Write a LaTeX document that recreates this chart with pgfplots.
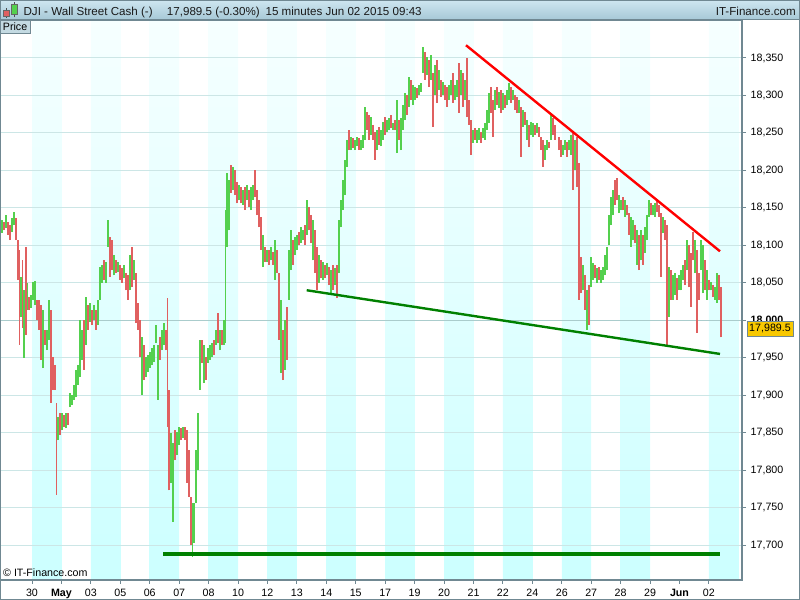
\documentclass[border=0pt]{standalone}
\usepackage{pgfplots}
\pgfplotsset{compat=1.18}
\usepackage{pgfplotstable}
\usepackage{fontspec}
\setmainfont{Liberation Sans}
\definecolor{upc}{RGB}{84,208,78}
\definecolor{dnc}{RGB}{224,96,96}
\definecolor{gridc}{RGB}{204,230,230}
\definecolor{gridd}{RGB}{170,204,204}
\definecolor{axc}{RGB}{112,136,146}
\definecolor{bandtop}{RGB}{246,255,255}
\definecolor{bandbot}{RGB}{204,255,255}
\definecolor{hdrtop}{RGB}{206,230,240}
\definecolor{hdrbot}{RGB}{166,200,214}
\definecolor{trgreen}{RGB}{0,128,0}
\definecolor{boxy}{RGB}{248,200,0}
\definecolor{pricebox}{RGB}{196,218,226}

% px = time position (chart units), lo/hi = price range of the 15-min bar, c = 1 up / 0 down
\pgfplotstableread{
px lo hi c
2 18117 18134 1
4 18120 18131 0
6 18123 18140 1
8 18114 18131 0
10 18107 18127 0
12 18118 18136 1
14 18127 18145 1
16 18107 18136 0
18 18054 18107 0
19.5 17967 18094 0
21 18004 18058 1
22.5 17990 18080 0
24 17950 18040 1
26 17980 18098 0
27.5 18014 18050 1
29 18014 18031 0
31 18016 18034 1
33 18027 18051 1
35 18020 18052 1
37 18000 18027 0
39 17987 18027 0
41 17947 18020 0
43 17936 18014 1
45 17967 17987 0
47 17960 17987 1
49 17974 18027 1
51 17890 18014 0
53 17907 17951 0
55 17907 17940 0
56.5 17767 17890 0
58 17840 17871 1
60 17847 17876 0
62 17854 17876 1
64 17858 17873 0
66 17856 17876 1
68 17860 17876 0
70 17884 17903 1
72 17887 17900 1
74 17894 17914 1
76 17897 17934 1
78 17914 17940 1
80 17924 18000 1
82 17947 17987 1
84 17934 18000 0
86 17967 18031 1
88 17987 18020 0
90 17998 18023 1
92 17994 18014 0
94 18000 18020 1
96 17987 18014 0
98 17994 18027 1
100 18027 18071 1
102 18050 18074 1
104 18054 18080 0
106 18050 18078 1
108 18098 18134 1
110 18058 18111 0
112 18067 18107 0
114 18060 18087 1
116 18063 18080 0
118 18064 18078 1
120 18054 18074 0
122 18050 18070 0
124 18056 18074 1
126 18040 18063 0
128 18027 18060 0
130 18040 18087 1
132 18044 18098 0
134 18054 18080 1
136 17996 18063 0
138 17987 18023 0
140 17951 18000 0
142 17900 17978 1
144 17920 17967 0
146 17924 17951 1
148 17931 17954 1
150 17936 17958 1
152 17940 17963 1
154 17944 17967 1
156 17970 17994 1
158 17894 17967 1
160 17947 17978 0
162 17960 17987 1
164 17967 17996 1
166 17960 17987 0
167.5 17858 18030 0
169 17773 17907 0
171 17783 17850 1
173 17731 17836 1
175 17813 17854 0
177 17820 17851 1
179 17834 17858 1
181 17840 17856 0
183 17843 17858 1
185 17840 17858 0
187 17783 17854 0
189 17764 17827 0
191 17700 17764 0
192.5 17684 17756 1
194 17703 17756 1
196 17756 17827 1
198 17800 17876 1
200 17907 17974 1
202 17943 17974 0
204 17916 17967 1
206 17920 17951 0
208 17943 17963 1
210 17947 17967 1
212 17951 17970 1
214 17954 17974 0
216 17967 17987 1
218 17970 18010 0
220 17960 17987 1
222 17967 17987 0
224 17967 18000 1
225.5 17970 18147 1
227 18098 18196 1
229 18120 18187 1
231 18170 18207 0
233 18174 18204 1
235 18167 18200 0
237 18156 18184 0
239 18160 18180 1
241 18156 18178 0
243 18154 18174 1
245 18147 18178 0
247 18160 18180 1
249 18151 18174 0
251 18147 18178 1
253 18160 18180 1
255 18164 18201 0
257 18140 18174 0
259 18124 18160 0
261 18094 18138 0
263 18071 18114 1
265 18078 18098 0
267 18078 18094 1
269 18074 18094 0
271 18080 18098 1
273 18074 18091 0
275 18054 18107 1
277 18063 18094 0
279 17974 18063 0
281 17930 18027 1
283 17920 17987 0
285 17934 18000 1
287 17947 18018 0
289 18027 18094 1
291 18067 18120 1
293 18074 18107 0
295 18087 18111 1
297 18094 18114 1
299 18100 18118 0
301 18103 18124 1
303 18107 18120 1
305 18100 18127 0
307 18114 18160 1
309 18120 18151 0
311 18103 18140 0
313 18080 18134 1
315 18063 18120 0
317 18040 18098 0
319 18050 18087 1
321 18056 18080 0
323 18054 18078 1
325 18056 18074 0
327 18060 18076 1
329 18047 18071 0
331 18034 18067 1
333 18040 18074 0
335 18047 18070 1
337 18030 18074 0
339 18063 18134 1
341 18124 18160 1
343 18147 18187 1
345 18167 18214 1
347 18205 18241 1
349 18227 18254 0
351 18227 18245 1
353 18230 18243 0
355 18227 18241 1
357 18232 18245 1
359 18227 18243 0
361 18227 18241 1
363 18230 18247 1
365 18241 18285 1
367 18254 18278 0
369 18241 18274 0
371 18247 18271 1
373 18241 18261 0
375 18214 18251 0
377 18227 18254 1
379 18234 18258 0
381 18232 18254 1
383 18241 18265 1
385 18247 18271 0
387 18251 18267 1
389 18254 18270 1
391 18256 18274 0
393 18254 18263 1
395 18254 18267 0
397 18223 18294 1
399 18241 18267 0
401 18227 18270 1
403 18254 18287 1
405 18267 18303 1
407 18274 18301 0
409 18285 18325 1
411 18294 18321 0
413 18287 18314 1
415 18294 18311 1
417 18297 18310 0
419 18301 18314 1
421 18305 18317 1
423 18330 18365 1
425 18321 18358 0
427 18327 18351 1
429 18311 18347 0
431 18321 18354 1
433 18258 18330 0
435 18301 18341 1
437 18290 18347 0
439 18307 18334 1
441 18298 18321 0
443 18301 18318 1
445 18294 18314 0
447 18285 18311 0
449 18294 18314 1
451 18301 18321 1
453 18290 18330 0
455 18294 18314 1
457 18298 18321 1
459 18277 18343 0
461 18301 18334 1
463 18285 18330 0
465 18294 18321 1
467 18271 18350 0
469 18261 18294 0
471 18221 18267 0
473 18237 18254 1
475 18241 18256 0
477 18237 18254 1
479 18241 18256 1
481 18237 18251 0
483 18243 18256 1
485 18241 18263 1
487 18254 18281 1
489 18263 18303 1
491 18277 18311 0
493 18245 18294 0
495 18281 18307 1
497 18287 18311 0
499 18283 18305 1
501 18277 18307 0
503 18281 18303 1
505 18283 18301 0
507 18287 18307 1
509 18294 18317 1
511 18290 18311 0
513 18294 18307 1
515 18281 18301 0
517 18277 18298 0
519 18277 18294 1
521 18218 18285 0
523 18258 18281 1
525 18261 18278 0
527 18241 18267 1
529 18231 18261 0
531 18247 18265 1
533 18245 18263 1
535 18247 18261 0
537 18250 18263 1
539 18245 18258 0
541 18227 18245 0
543 18205 18241 0
545 18214 18234 1
547 18227 18241 1
549 18230 18238 0
551 18241 18277 1
553 18247 18270 0
555 18241 18261 0
559 18227 18245 0
561 18218 18241 0
563 18221 18234 1
565 18227 18241 1
567 18218 18238 0
569 18227 18241 1
571 18221 18247 1
573 18174 18250 0
575 18201 18241 1
577 18178 18245 0
579 18027 18210 0
581 18036 18084 0
583 18040 18074 1
585 18014 18060 0
587 17987 18040 1
589 17994 18047 0
591 18044 18084 1
593 18054 18076 1
595 18056 18074 0
597 18050 18070 1
599 18054 18071 0
601 18050 18067 1
603 18054 18071 1
605 18060 18087 1
607 18067 18098 1
609 18100 18140 1
611 18127 18164 1
613 18140 18174 1
615 18154 18187 0
617 18160 18190 0
619 18143 18167 1
621 18147 18160 1
623 18147 18164 0
625 18138 18160 1
627 18140 18154 0
629 18114 18143 0
631 18098 18138 1
633 18107 18134 1
635 18103 18127 0
637 18074 18120 1
639 18067 18114 0
641 18080 18120 1
643 18074 18114 0
645 18090 18124 1
647 18107 18140 1
649 18138 18160 1
651 18140 18156 0
653 18140 18154 1
655 18138 18156 1
657 18145 18160 0
659 18138 18154 0
661 18058 18143 0
663 18116 18138 1
665 18107 18134 0
667 17967 18127 0
669 18004 18071 1
671 18027 18067 0
673 18027 18060 1
675 18034 18063 1
677 18027 18056 0
679 18040 18060 1
681 18040 18067 1
683 18054 18074 1
685 18047 18080 0
687 18067 18107 1
689 18044 18100 0
691 18018 18090 0
693 18080 18118 0
695 18063 18107 1
697 17983 18094 0
699 18027 18063 0
701 18067 18107 1
703 18036 18100 1
705 18040 18080 0
707 18027 18067 1
709 18040 18054 0
711 18040 18051 1
713 18031 18047 0
715 18027 18044 1
717 18023 18063 1
719 18027 18060 0
721 17977 18044 0
}\bars

\begin{document}
\begin{tikzpicture}[x=1pt,y=1pt]
\begin{axis}[
  set layers,
  scale only axis, width=556.5pt, height=420pt,
  at={(0,0)}, anchor=south west,
  xmin=0, xmax=742, ymin=17653.3, ymax=18400.7,
  axis line style={draw=axc, line width=1pt},
  xtick={32,61.4,90.9,120.3,149.7,179.2,208.6,238.0,267.4,296.9,326.3,355.7,385.2,414.6,444.0,473.5,502.9,532.3,561.8,591.2,620.6,650.0,679.5,708.9},
  xticklabels={30,\textbf{May},03,05,06,07,08,10,12,13,14,15,17,19,20,21,22,24,26,27,28,29,\textbf{Jun},02},
  ytick={17700,17750,17800,17850,17900,17950,18050,18100,18150,18200,18250,18300,18350},
  yticklabels={{17,700},{17,750},{17,800},{17,850},{17,900},{17,950},{18,050},{18,100},{18,150},{18,200},{18,250},{18,300},{18,350}},
  extra y ticks={18000},
  extra y tick labels={\textbf{18,000}},
  extra y tick style={major grid style={draw=gridd, line width=0.9pt}},
  ymajorgrids,
  major grid style={draw=gridc, line width=0.75pt},
  ytick pos=right, yticklabel pos=right,
  xtick pos=bottom,
  tick align=outside,
  major tick length=3pt,
  tick style={draw=axc, line width=0.75pt},
  tick label style={font=\fontsize{8}{9}\selectfont, text=black},
]
\begin{pgfonlayer}{axis background}
\fill[top color=bandtop, bottom color=bandbot] (axis cs:32,17653.3) rectangle (axis cs:61.4,18400.7);
\fill[top color=bandtop, bottom color=bandbot] (axis cs:90.9,17653.3) rectangle (axis cs:120.3,18400.7);
\fill[top color=bandtop, bottom color=bandbot] (axis cs:149.7,17653.3) rectangle (axis cs:179.2,18400.7);
\fill[top color=bandtop, bottom color=bandbot] (axis cs:208.6,17653.3) rectangle (axis cs:238.0,18400.7);
\fill[top color=bandtop, bottom color=bandbot] (axis cs:267.4,17653.3) rectangle (axis cs:296.9,18400.7);
\fill[top color=bandtop, bottom color=bandbot] (axis cs:326.3,17653.3) rectangle (axis cs:355.7,18400.7);
\fill[top color=bandtop, bottom color=bandbot] (axis cs:385.2,17653.3) rectangle (axis cs:414.6,18400.7);
\fill[top color=bandtop, bottom color=bandbot] (axis cs:444.0,17653.3) rectangle (axis cs:473.5,18400.7);
\fill[top color=bandtop, bottom color=bandbot] (axis cs:502.9,17653.3) rectangle (axis cs:532.3,18400.7);
\fill[top color=bandtop, bottom color=bandbot] (axis cs:561.8,17653.3) rectangle (axis cs:591.2,18400.7);
\fill[top color=bandtop, bottom color=bandbot] (axis cs:620.6,17653.3) rectangle (axis cs:650.0,18400.7);
\fill[top color=bandtop, bottom color=bandbot] (axis cs:708.9,17653.3) rectangle (axis cs:738.5,18400.7);
\end{pgfonlayer}

\addplot[forget plot, draw=none, mark=none,
  y filter/.expression={\thisrow{c}>0.5 ? y : nan},
  error bars/.cd, y dir=plus, y explicit, error mark=none,
  error bar style={draw=upc, line width=1.35pt}]
  table[x=px, y=lo, y error expr=\thisrow{hi}-\thisrow{lo}] {\bars};
\addplot[forget plot, draw=none, mark=none,
  y filter/.expression={\thisrow{c}<0.5 ? y : nan},
  error bars/.cd, y dir=plus, y explicit, error mark=none,
  error bar style={draw=dnc, line width=1.35pt}]
  table[x=px, y=lo, y error expr=\thisrow{hi}-\thisrow{lo}] {\bars};

\addplot[draw=red, line width=1.8pt] coordinates {(466,18367) (720,18092)};
\addplot[draw=trgreen, line width=1.8pt] coordinates {(306.7,18040) (720,17955)};
\addplot[draw=trgreen, line width=2.3pt] coordinates {(163,17688) (720,17688)};
\end{axis}

% header bar
\shade[top color=hdrtop, bottom color=hdrbot] (0,420) rectangle (600,435);
\draw[axc, line width=0.75pt] (0,420) -- (600,420);
% candle icon
\draw[black!70, line width=0.4pt] (4.5,421.5) -- (4.5,429);
\fill[dnc, draw=black!60, line width=0.3pt] (2.6,423) rectangle (6.6,427.5);
\draw[black!70, line width=0.4pt] (10.5,422.5) -- (10.5,433.5);
\fill[upc, draw=black!60, line width=0.3pt] (8.6,424.5) rectangle (12.6,432);
\begin{scope}[every node/.style={font=\fontsize{8.7}{10}\selectfont, inner sep=0pt, text=black!90}]
\node[anchor=base west] at (17.5,423.6) {DJI - Wall Street Cash (-)};
\node[anchor=base west] at (125,423.6) {17,989.5 (-0.30\%)};
\node[anchor=base west] at (199,423.6) {15 minutes};
\node[anchor=base west] at (244,423.6) {Jun 02 2015 09:43};
\node[anchor=base east] at (597,423.6) {IT-Finance.com};
\end{scope}
% Price tab
\fill[pricebox, draw=axc, line width=0.5pt] (0.5,410.25) rectangle (22.5,420);
\node[anchor=base west, inner sep=0pt, font=\fontsize{8}{9}\selectfont] at (2,412.4) {Price};
% copyright
\node[anchor=base west, inner sep=0pt, font=\fontsize{8}{9}\selectfont] at (2.2,2.6) {© IT-Finance.com};
% last price box
\fill[boxy, draw=axc, line width=0.5pt] (560.25,183) rectangle (594.75,194.25);
\node[inner sep=0pt, font=\fontsize{8}{9}\selectfont] at (577.5,188.6) {17,989.5};
% outer frame
\draw[axc, line width=0.75pt] (0.375,-14.625) rectangle (599.625,434.625);
\pgfresetboundingbox
\path[use as bounding box] (0,-15) rectangle (600,435);
\end{tikzpicture}
\end{document}
